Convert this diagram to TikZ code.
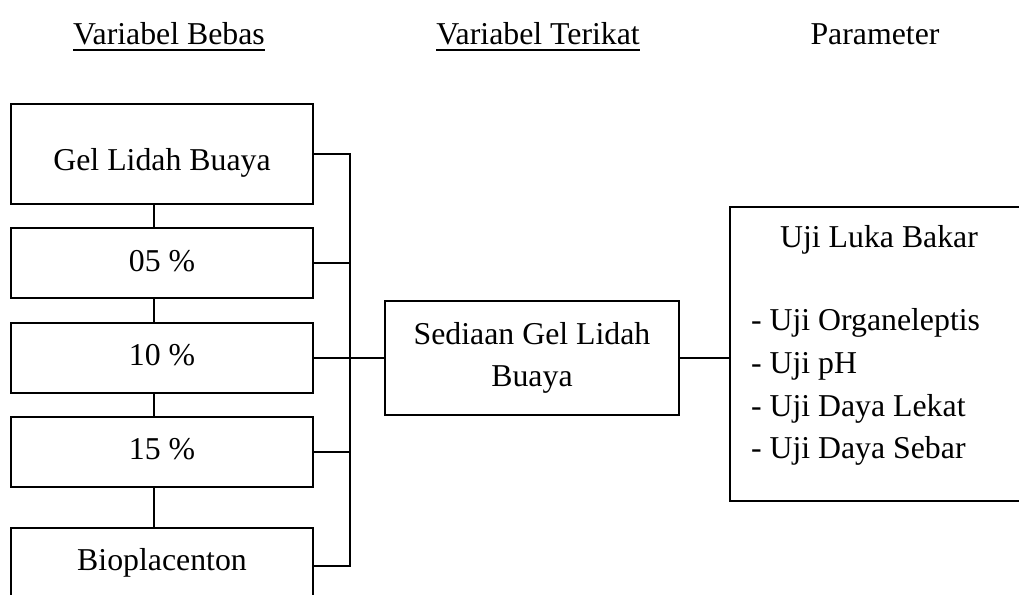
\documentclass[tikz,border=0pt]{standalone}
\usepackage{fontspec}
\setmainfont{Liberation Serif}
\begin{document}
\begin{tikzpicture}[x=1pt,y=-1pt,
  box/.style={draw=black, line width=1.5pt, inner sep=0pt, outer sep=0pt},
  txt/.style={inner sep=0pt, outer sep=0pt, anchor=base, font=\fontsize{31.8}{38}\selectfont},
  txtl/.style={txt, anchor=base west},
  conn/.style={line width=2pt}]
\useasboundingbox (0,0) rectangle (1019,594);
\clip (0,0) rectangle (1019,594);
% headers
\node[txt] (hb) at (169,45) {Variabel Bebas};
\node[txt] (ht) at (538,45) {Variabel Terikat};
\node[txt] (hp) at (875,45) {Parameter};
\draw[line width=2pt] ([yshift=-5.5pt]hb.base west) -- ([yshift=-5.5pt]hb.base east);
\draw[line width=2pt] ([yshift=-5.5pt]ht.base west) -- ([yshift=-5.5pt]ht.base east);
% left boxes
\node[box, minimum width=302pt, minimum height=100pt] (gel) at (162,154) {};
\node[box, minimum width=302pt, minimum height=70pt] (p05) at (162,263) {};
\node[box, minimum width=302pt, minimum height=70pt] (p10) at (162,358) {};
\node[box, minimum width=302pt, minimum height=70pt] (p15) at (162,452) {};
\node[box, minimum width=302pt, minimum height=76pt] (bio) at (162,566) {};
\node[txt] (tgel) at (162,170) {Gel Lidah Buaya};
\node[txt] (t05) at (162,271) {05 \%};
\node[txt] (t10) at (162,365) {10 \%};
\node[txt] (t15) at (162,459) {15 \%};
\node[txt] (tbio) at (162,570) {Bioplacenton};
% middle box
\node[box, minimum width=294pt, minimum height=114pt] (sed) at (532,358) {};
\node[txt] (ts1) at (532,344) {Sediaan Gel Lidah};
\node[txt] (ts2) at (532,386) {Buaya};
% right box
\node[box, minimum width=300pt, minimum height=294pt] (uji) at (880,354) {};
\node[txt] (tu0) at (879,247) {Uji Luka Bakar};
\node[txtl] (tu1) at (751,330) {- Uji Organeleptis};
\node[txtl] (tu2) at (751,373) {- Uji pH};
\node[txtl] (tu3) at (751,416) {- Uji Daya Lekat};
\node[txtl] (tu4) at (751,458) {- Uji Daya Sebar};
% connectors
\coordinate (vx) at (154,0);
\coordinate (bus) at (350,0);
\draw[conn] (gel.south -| vx) -- (p05.north -| vx);
\draw[conn] (p05.south -| vx) -- (p10.north -| vx);
\draw[conn] (p10.south -| vx) -- (p15.north -| vx);
\draw[conn] (p15.south -| vx) -- (bio.north -| vx);
\draw[conn] (gel.east) -- (gel.east -| bus) -- (bio.east -| bus) -- (bio.east);
\draw[conn] (p05.east) -- (p05.east -| bus);
\draw[conn] (p15.east) -- (p15.east -| bus);
\draw[conn] (p10.east) -- (p10.east -| sed.west);
\draw[conn] (sed.east) -- (sed.east -| uji.west);
\end{tikzpicture}
\end{document}
